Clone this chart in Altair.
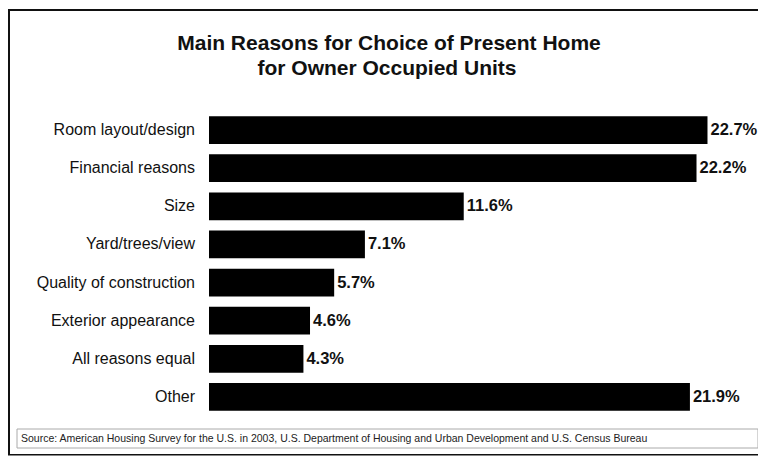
import altair as alt
import pandas as pd

categories = [
    "Room layout/design",
    "Financial reasons",
    "Size",
    "Yard/trees/view",
    "Quality of construction",
    "Exterior appearance",
    "All reasons equal",
    "Other",
]
values = [22.7, 22.2, 11.6, 7.1, 5.7, 4.6, 4.3, 21.9]
title_lines = ["Main Reasons for Choice of Present Home", "for Owner Occupied Units"]
source_text = ("Source: American Housing Survey for the U.S. in 2003, U.S. Department of "
               "Housing and Urban Development and U.S. Census Bureau")

df = pd.DataFrame({"reason": categories, "value": values})
one = pd.DataFrame({"k": [0]})

W, H = 750, 448
FONT = "Liberation Sans"

xs = alt.Scale(domain=[0, 25], range=[201, 750])
ys = alt.Scale(domain=categories, range=[103, 408], paddingInner=0.27, paddingOuter=0.135)

base = alt.Chart(df)

bars = base.mark_bar(color="#000000").encode(
    x=alt.X("value:Q", scale=xs, axis=None),
    y=alt.Y("reason:N", scale=ys, sort=categories, axis=None),
)

vals = base.transform_calculate(
    label="format(datum.value, '.1f') + '%'"
).mark_text(align="left", baseline="middle", dx=3, font=FONT, fontSize=16.5,
            fontWeight="bold", color="#111111").encode(
    x=alt.X("value:Q", scale=xs, axis=None),
    y=alt.Y("reason:N", scale=ys, sort=categories, axis=None),
    text="label:N",
)

cats = base.mark_text(align="right", baseline="middle", font=FONT, fontSize=16,
                      color="#111111").encode(
    x=alt.value(187),
    y=alt.Y("reason:N", scale=ys, sort=categories, axis=None),
    text="reason:N",
)

t1 = alt.Chart(one).mark_text(align="center", baseline="alphabetic", font=FONT,
                              fontSize=21, fontWeight="bold", color="#111111").encode(
    x=alt.value(381), y=alt.value(42), text=alt.value(title_lines[0]))
t2 = alt.Chart(one).mark_text(align="center", baseline="alphabetic", font=FONT,
                              fontSize=21, fontWeight="bold", color="#111111").encode(
    x=alt.value(379), y=alt.value(67), text=alt.value(title_lines[1]))

# frame drawn as thin filled rectangles
frame_top = alt.Chart(one).mark_rect(color="#111111").encode(
    x=alt.value(0), x2=alt.value(W), y=alt.value(1), y2=alt.value(3))
frame_left = alt.Chart(one).mark_rect(color="#111111").encode(
    x=alt.value(0), x2=alt.value(2), y=alt.value(1), y2=alt.value(H - 1))
frame_bottom = alt.Chart(one).mark_rect(color="#111111").encode(
    x=alt.value(0), x2=alt.value(W), y=alt.value(H - 2), y2=alt.value(H - 0.5))

src_box = alt.Chart(one).mark_rect(fill="#ffffff", stroke="#aaaaaa", strokeWidth=1).encode(
    x=alt.value(9), x2=alt.value(W), y=alt.value(421), y2=alt.value(440))
src = alt.Chart(one).mark_text(align="left", baseline="middle", font=FONT, fontSize=10.5,
                               color="#222222").encode(
    x=alt.value(13), y=alt.value(431), text=alt.value(source_text))

chart = alt.layer(
    frame_top, frame_left, frame_bottom, src_box, src, t1, t2, bars, vals, cats
).properties(
    width=W, height=H, padding=0, autosize=alt.AutoSizeParams(type="none"),
    background="#ffffff",
).configure_view(strokeWidth=0, stroke="transparent")

chart.save("out.html", embed_options={"renderer": "svg", "actions": False})
